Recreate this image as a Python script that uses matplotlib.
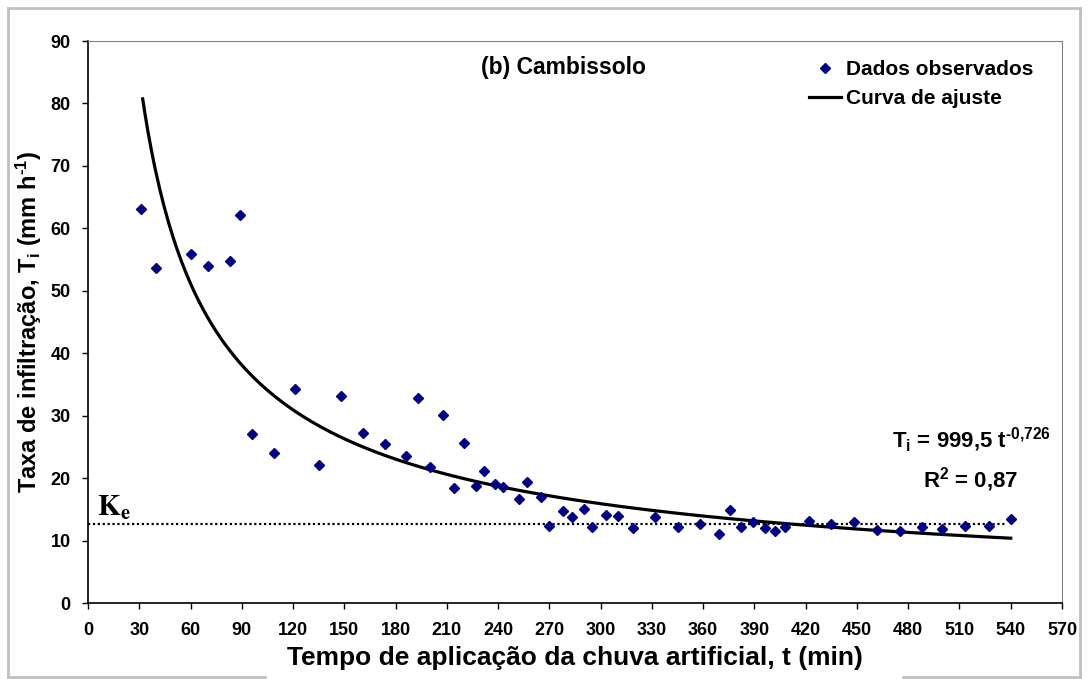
import numpy as np
import matplotlib
matplotlib.use("Agg")
import matplotlib.pyplot as plt
from matplotlib.lines import Line2D

plt.rcParams['font.family'] = ['Liberation Sans', 'DejaVu Sans']
plt.rcParams['font.weight'] = 'bold'
plt.rcParams['mathtext.fontset'] = 'custom'
plt.rcParams['mathtext.rm'] = 'Liberation Sans:bold'
plt.rcParams['mathtext.it'] = 'Liberation Sans:bold'
plt.rcParams['mathtext.bf'] = 'Liberation Sans:bold'

t_obs = [31, 40, 60, 70, 83, 89, 96, 109, 121, 135, 148, 161, 174, 186, 193,
         200, 208, 214, 220, 227, 232, 238, 243, 252, 257, 265, 270, 278, 283,
         290, 295, 303, 310, 319, 332, 345, 358, 369, 376, 382, 389, 396, 402,
         408, 422, 435, 448, 462, 475, 488, 500, 513, 527, 540]
ti_obs = [63.1, 53.7, 55.9, 54.0, 54.8, 62.2, 27.1, 24.1, 34.3, 22.1, 33.2,
          27.3, 25.5, 23.6, 32.8, 21.7, 30.1, 18.4, 25.6, 18.7, 21.1, 19.1,
          18.5, 16.7, 19.4, 17.0, 12.4, 14.8, 13.8, 15.0, 12.2, 14.1, 14.0,
          12.0, 13.7, 12.1, 12.65, 11.05, 14.9, 12.2, 13.0, 11.95, 11.6, 12.1,
          13.2, 12.6, 12.9, 11.7, 11.6, 12.2, 11.8, 12.3, 12.3, 13.45]

# fitted curve Ti = a * t^b (equation shown on the chart)
fit_a = 999.5
fit_b = -0.726
t_fit_start, t_fit_end = 32, 540
ke = 12.6
ke_end = 537

xticks = list(range(0, 571, 30))
yticks = list(range(0, 91, 10))

fig = plt.figure(figsize=(10.88, 6.79), dpi=100)
ax = fig.add_axes([88 / 1088, 1 - 603 / 679, 974 / 1088, 562 / 679])

t_fit = np.linspace(t_fit_start, t_fit_end, 400)
ax.plot(t_fit, fit_a * t_fit ** fit_b, color='black', lw=2.3, zorder=3)
ax.plot([0, ke_end], [ke, ke], color='black', lw=1.6, ls=(0, (1, 1.2)), zorder=2)
ax.plot(t_obs, ti_obs, ls='none', marker='D', ms=5.5, color='#000080', zorder=4)

ax.set_xlim(0, 570)
ax.set_ylim(0, 90)
ax.set_xticks(xticks)
ax.set_yticks(yticks)
ax.tick_params(axis='both', direction='out', length=4.5, width=1,
               labelsize=13)
ax.tick_params(axis='x', pad=9)
ax.tick_params(axis='y', pad=8)
for lab in ax.get_xticklabels() + ax.get_yticklabels():
    lab.set_fontweight('bold')
ax.spines['top'].set_color('#808080')
ax.spines['right'].set_color('#808080')
ax.spines['left'].set_linewidth(1.2)
ax.spines['bottom'].set_linewidth(1.2)

ax.set_xlabel('Tempo de aplicação da chuva artificial, t (min)',
              fontsize=19, fontweight='bold', labelpad=5)
ax.set_ylabel(r'Taxa de infiltração, T$_\mathregular{i}$ (mm h$^\mathregular{\text{-}1}$)',
              fontsize=17, fontweight='bold', labelpad=5)

ax.text(0.488, 0.952, '(b) Cambissolo', transform=ax.transAxes,
        ha='center', va='center', fontsize=16.5, fontweight='bold')

ax.text(0.9066, 0.29, r'T$_\mathregular{i}$ = 999,5 t$^\mathregular{\text{-}0{,}726}$',
        transform=ax.transAxes, ha='center', va='center', fontsize=16,
        fontweight='bold')
ax.text(0.9066, 0.219, r'R$^\mathregular{2}$ = 0,87',
        transform=ax.transAxes, ha='center', va='center', fontsize=16,
        fontweight='bold')

ax.text(0.0095, 0.155, r'$\mathbf{K_e}$', transform=ax.transAxes,
        ha='left', va='baseline', fontsize=21, math_fontfamily='stix')

handles = [Line2D([], [], ls='none', marker='D', ms=5, color='#000080'),
           Line2D([], [], color='black', lw=2.3)]
leg = ax.legend(handles, ['Dados observados', 'Curva de ajuste'],
                loc='upper left', bbox_to_anchor=(0.730, 0.985),
                frameon=False, fontsize=15, handlelength=1.5,
                handletextpad=0.25, labelspacing=0.5, borderpad=0)
for txt in leg.get_texts():
    txt.set_fontweight('bold')

# outer chart border (bottom edge broken by the axis title)
bc = '#c0c0c0'
fig.add_artist(Line2D([8 / 1088, 1080 / 1088], [1 - 8 / 679, 1 - 8 / 679], color=bc, lw=2))
fig.add_artist(Line2D([8 / 1088, 8 / 1088], [1 - 8 / 679, 1 - 677 / 679], color=bc, lw=2))
fig.add_artist(Line2D([1080 / 1088, 1080 / 1088], [1 - 8 / 679, 1 - 677 / 679], color=bc, lw=2))
fig.add_artist(Line2D([8 / 1088, 265 / 1088], [1 - 677 / 679, 1 - 677 / 679], color=bc, lw=2))
fig.add_artist(Line2D([903 / 1088, 1080 / 1088], [1 - 677 / 679, 1 - 677 / 679], color=bc, lw=2))

fig.savefig('out.png', dpi=100)
